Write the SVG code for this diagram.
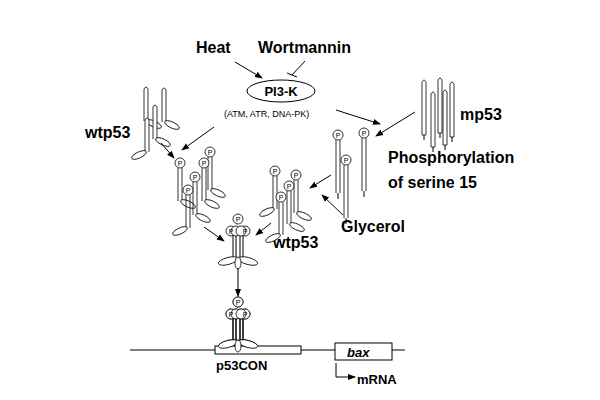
<svg xmlns="http://www.w3.org/2000/svg" width="600" height="400" viewBox="0 0 600 400">
<style>
text{font-family:"Liberation Sans",Arial,sans-serif;fill:#000}
.lb{font-size:16px;font-weight:bold}
.ln{stroke:#000;stroke-width:1;fill:none}
.sh{stroke:#000;stroke-width:0.8;fill:#fff}
</style>
<defs>
<marker id="ah" markerWidth="8" markerHeight="8" refX="7" refY="4" orient="auto" markerUnits="userSpaceOnUse"><path d="M0,1 L8,4 L0,7 Z" fill="#000"/></marker>
<g id="mono"><path class="sh" d="M-2,34 L-2,2 Q0,-2 2,2 L2,34"/><ellipse class="sh" cx="8" cy="37" rx="8" ry="3" transform="rotate(25 8 37)"/></g>
<g id="monoL"><path class="sh" d="M-2,34 L-2,2 Q0,-2 2,2 L2,34"/><ellipse class="sh" cx="-8" cy="37" rx="8" ry="3" transform="rotate(-25 -8 37)"/></g>
<g id="phos"><circle class="sh" cx="0" cy="0" r="5"/><text x="0" y="3" font-size="7" text-anchor="middle">P</text><path class="sh" d="M-2,5 L-2,38 M2,5 L2,38"/><ellipse class="sh" cx="8" cy="41" rx="8" ry="3" transform="rotate(25 8 41)"/></g>
<g id="phosL"><circle class="sh" cx="0" cy="0" r="5"/><text x="0" y="3" font-size="7" text-anchor="middle">P</text><path class="sh" d="M-2,5 L-2,38 M2,5 L2,38"/><ellipse class="sh" cx="-8" cy="41" rx="8" ry="3" transform="rotate(-25 -8 41)"/></g>
<g id="mp"><path class="sh" d="M-2,55 L-2,2 Q0,-2 2,2 L2,55 Z"/><path class="ln" d="M0,55 L0,60"/></g>
<g id="mpP"><circle class="sh" cx="0" cy="0" r="5"/><text x="0" y="3" font-size="7" text-anchor="middle">P</text><path class="sh" d="M-2,5 L-2,58 M2,5 L2,58"/><path class="ln" d="M0,58 L0,64"/></g>
<g id="tet"><circle class="sh" cx="0" cy="0" r="5"/><text x="0" y="3" font-size="7" text-anchor="middle">P</text>
<path class="ln" d="M-5,16 L-5,38 M-2,16 L-2,38 M2,16 L2,38 M5,16 L5,38"/>
<circle class="sh" cx="-7" cy="12" r="5"/><circle class="sh" cx="7" cy="12" r="5"/><circle class="sh" cx="-2" cy="12" r="5"/><circle class="sh" cx="3" cy="12" r="5"/>
<text x="-7" y="15" font-size="7" text-anchor="middle">P</text><text x="7" y="15" font-size="7" text-anchor="middle">P</text>
<ellipse class="sh" cx="-10" cy="42" rx="10" ry="3.5" transform="rotate(-15 -10 42)"/><ellipse class="sh" cx="10" cy="42" rx="10" ry="3.5" transform="rotate(15 10 42)"/><ellipse class="sh" cx="0" cy="44" rx="3" ry="6"/></g>
</defs>

<g id="labels">
<text class="lb" x="196" y="53">Heat</text>
<text class="lb" x="258" y="53">Wortmannin</text>
<text class="lb" x="85" y="138">wtp53</text>
<text class="lb" x="460" y="120">mp53</text>
<text class="lb" x="388" y="163">Phosphorylation</text>
<text class="lb" x="388" y="188">of serine 15</text>
<text class="lb" x="341" y="232">Glycerol</text>
<text class="lb" x="273" y="248">wtp53</text>
<text x="224" y="117" font-size="9">(ATM, ATR, DNA-PK)</text>
</g>

<g id="pi3k"><ellipse cx="281" cy="91" rx="34" ry="11" fill="#fff" stroke="#000"/><text x="281" y="96" font-size="13" font-weight="bold" text-anchor="middle">PI3-K</text></g>

<g id="wt-top"><use href="#mono" x="146" y="87"/><use href="#mono" x="164" y="88"/><use href="#mono" x="155" y="105"/><use href="#monoL" x="147" y="118"/></g>
<g id="mp53"><use href="#mp" x="424" y="80"/><use href="#mp" x="433" y="92"/><use href="#mp" x="445" y="90"/><use href="#mp" x="452" y="82"/><use href="#mp" x="440" y="78"/></g>
<g id="phos-left"><use href="#phos" x="180" y="163"/><use href="#phos" x="210" y="152"/><use href="#phos" x="204" y="163"/><use href="#phos" x="195" y="177"/><use href="#phosL" x="188" y="190"/></g>
<g id="phos-right"><use href="#mpP" x="338" y="135"/><use href="#mpP" x="364" y="133"/><use href="#mpP" x="346" y="160"/></g>
<g id="phos-mid"><use href="#phosL" x="275" y="171"/><use href="#phos" x="296" y="175"/><use href="#phos" x="289" y="186"/><use href="#phosL" x="281" y="197"/></g>
<g id="tet1"><use href="#tet" x="238" y="219"/></g>
<g id="tet2"><use href="#tet" x="238" y="302"/></g>

<g id="dna">
<path class="ln" d="M130,350 L215,350 M301,350 L335,350 M392,350 L405,350"/>
<rect x="215" y="346" width="86" height="8" fill="#fff" stroke="#000"/>
<use href="#tet" x="238" y="302"/>
<rect x="335" y="343" width="57" height="17" fill="#fff" stroke="#000"/>
<text x="347" y="357" font-size="13" font-weight="bold" font-style="italic">bax</text>
<text x="216" y="370" font-size="13" font-weight="bold">p53CON</text>
<text x="357" y="384" font-size="13" font-weight="bold">mRNA</text>
</g>

<g id="connectors">
<path class="ln" d="M235,62 L262,78" marker-end="url(#ah)"/>
<path class="ln" d="M305,61 L292,75 M287,73 L297,77"/>
<path class="ln" d="M336,110 L380,124" marker-end="url(#ah)"/>
<path class="ln" d="M415,112 L376,136" marker-end="url(#ah)"/>
<path class="ln" d="M214,127 L182,150" marker-end="url(#ah)"/>
<path class="ln" d="M161,143 L174,158" marker-end="url(#ah)"/>
<path class="ln" d="M331,175 L310,188" marker-end="url(#ah)"/>
<path class="ln" d="M343,215 L322,195" marker-end="url(#ah)"/>
<path class="ln" d="M204,227 L224,241" marker-end="url(#ah)"/>
<path class="ln" d="M271,223 L256,235" marker-end="url(#ah)"/>
<path class="ln" d="M238,268 L238,296" marker-end="url(#ah)"/>
<path class="ln" d="M336,363 L336,377 L355,377" marker-end="url(#ah)"/>
</g>
</svg>
